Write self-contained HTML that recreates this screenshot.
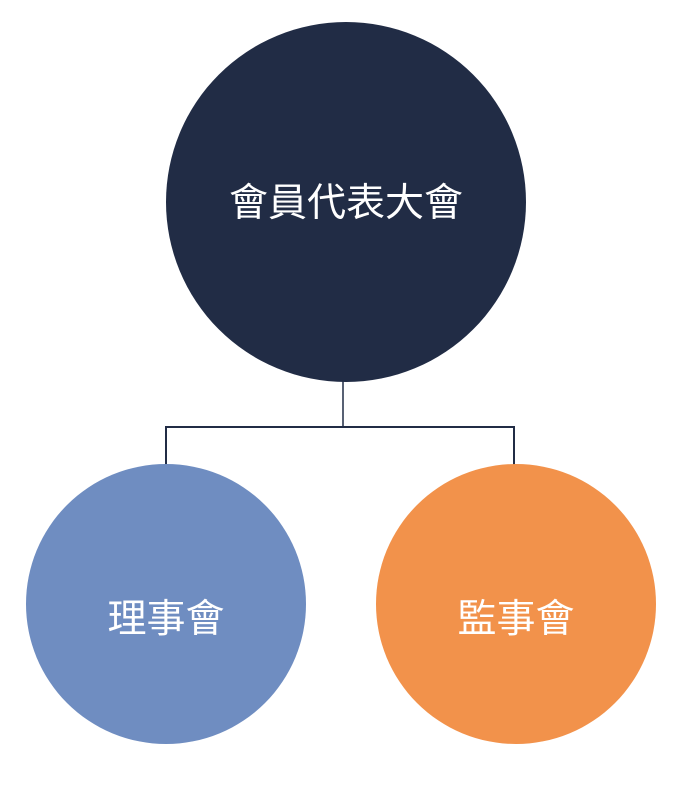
<!DOCTYPE html>
<html><head><meta charset="utf-8"><style>
html,body{margin:0;padding:0;background:#fff;}
body{width:681px;height:793px;position:relative;overflow:hidden;}
</style></head><body>
<svg width="681" height="793" xmlns="http://www.w3.org/2000/svg" style="position:absolute;left:0;top:0">
<polyline points="343,380 343,426" fill="none" stroke="#212c45" stroke-width="1.5"/>
<polyline points="166,466 166,427 514,427 514,466" fill="none" stroke="#212c45" stroke-width="2"/>
<circle cx="346" cy="202" r="180" fill="#212c45"/>
<circle cx="166" cy="604" r="140" fill="#6f8dc1"/>
<circle cx="516" cy="604" r="140" fill="#f2924b"/>
<g font-family="'Liberation Sans','Noto Sans CJK TC',sans-serif" fill="#fff" text-anchor="middle">
<text x="346" y="216" font-size="39">會員代表大會</text>
<text x="166" y="632" font-size="39">理事會</text>
<text x="516" y="632" font-size="39">監事會</text>
</g>
</svg>
</body></html>
